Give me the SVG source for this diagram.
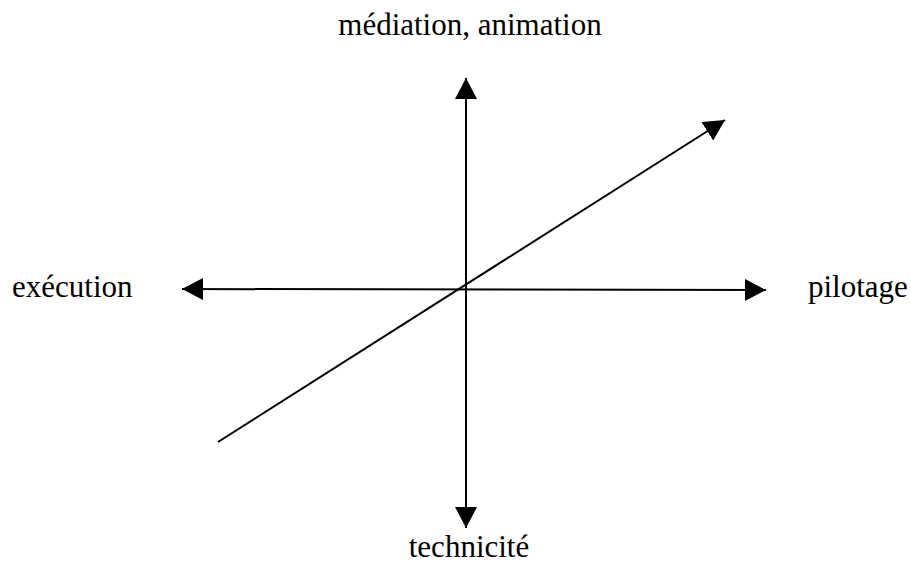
<svg xmlns="http://www.w3.org/2000/svg" width="911" height="565" viewBox="0 0 911 565" font-family="'Liberation Serif', 'DejaVu Serif', serif">
<style>
.lbl{font-family:'Liberation Serif','DejaVu Serif',serif;font-size:31px;fill:#000}
.ax{stroke:#000;stroke-width:2;fill:none}
</style>
<defs>
<marker id="ah" markerUnits="userSpaceOnUse" markerWidth="22" markerHeight="22" refX="21" refY="11" orient="auto-start-reverse" viewBox="0 0 22 22">
<path d="M0,0 L21,11 L0,22 z" fill="#000"/>
</marker>
</defs>
<g id="connectors">
<line class="ax" x1="466" y1="78" x2="466" y2="528" marker-start="url(#ah)" marker-end="url(#ah)"/>
<line class="ax" x1="182" y1="289" x2="766" y2="290" marker-start="url(#ah)" marker-end="url(#ah)"/>
<line class="ax" x1="218" y1="442" x2="725" y2="120" marker-end="url(#ah)"/>
</g>
<g id="n-mediation"><text class="lbl" x="470" y="35" text-anchor="middle">médiation, animation</text></g>
<g id="n-execution"><text class="lbl" x="12" y="297">exécution</text></g>
<g id="n-pilotage"><text class="lbl" x="808" y="297">pilotage</text></g>
<g id="n-technicite"><text class="lbl" x="469" y="557" text-anchor="middle">technicité</text></g>
</svg>
